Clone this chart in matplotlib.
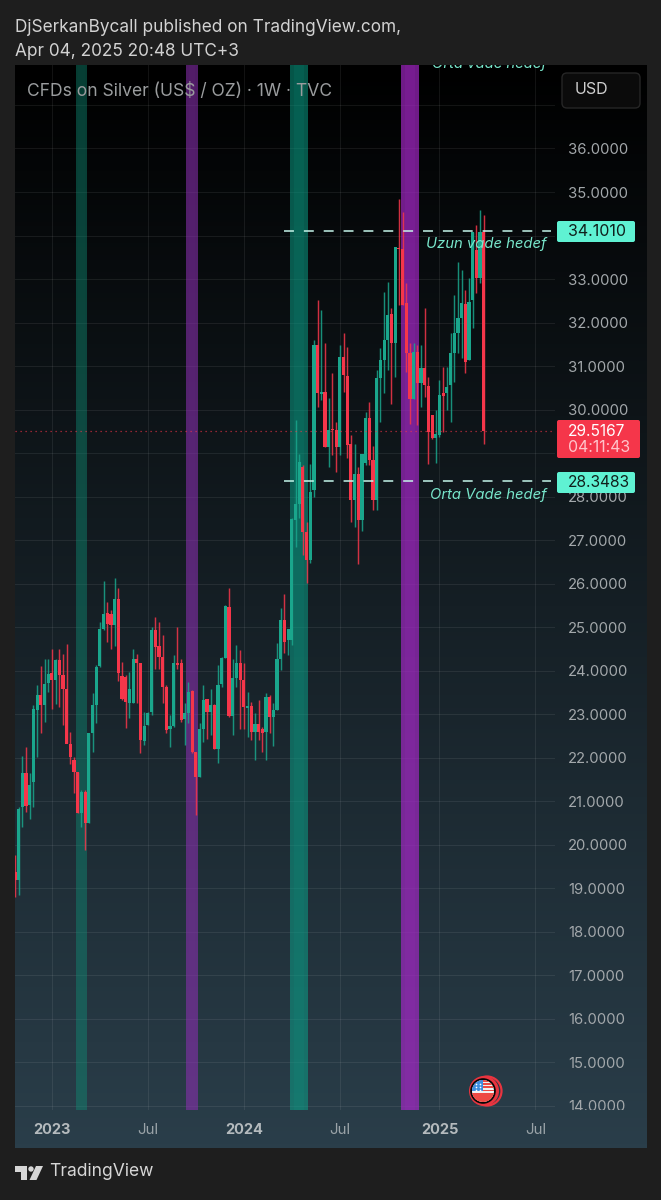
import numpy as np
import pandas as pd
import matplotlib
matplotlib.use("Agg")
import matplotlib.pyplot as plt
from matplotlib.patches import Rectangle, FancyBboxPatch, Circle, Polygon
from matplotlib.transforms import Bbox

plt.rcParams['font.family'] = ['Inter', 'DejaVu Sans']

week_dates = pd.date_range('2022-10-24', periods=128, freq='7D')
opens = [19.38,19.20,20.87,21.65,20.91,21.45,23.09,23.44,23.21,23.72,
 23.94,23.78,24.24,23.90,23.57,22.31,21.96,21.68,20.72,21.22,
 20.49,22.56,23.21,24.10,24.95,25.33,25.31,25.05,25.64,23.87,
 23.86,23.26,23.26,24.26,24.17,22.39,22.75,23.05,24.93,24.56,
 24.32,23.63,22.67,22.73,24.18,24.17,22.88,23.02,23.53,22.14,
 21.56,22.67,23.34,23.05,23.21,22.21,23.69,24.30,25.47,22.96,
 23.84,24.17,23.78,23.15,23.18,22.59,22.77,22.67,22.59,23.40,
 22.94,23.09,24.28,25.16,24.70,24.70,27.46,27.84,28.69,27.19,
 26.55,28.15,31.48,30.36,30.41,29.15,29.55,29.53,29.15,31.22,
 30.77,29.22,27.92,28.53,27.46,28.77,29.80,28.84,27.92,30.72,
 31.14,31.60,32.20,31.52,33.70,33.70,32.44,31.29,30.24,31.33,
 30.60,30.95,30.55,29.88,29.34,29.42,30.37,30.37,30.56,31.29,
 31.75,32.10,32.43,31.14,32.52,33.67,33.02,34.09]
highs = [19.76,20.87,22.04,22.24,21.64,23.21,23.67,24.10,24.28,24.28,
 24.51,24.28,24.49,24.39,24.61,22.59,22.02,21.68,21.25,21.27,
 22.57,23.49,24.13,25.12,26.07,25.58,25.39,26.12,25.89,24.20,
 23.90,23.97,24.49,24.38,24.17,23.05,23.05,25.01,25.24,25.12,
 24.82,23.67,22.98,24.36,25.01,24.28,23.25,23.74,23.55,22.14,
 22.79,23.67,23.34,23.59,23.23,24.13,24.32,25.51,25.91,24.28,
 24.59,24.47,24.17,23.51,23.28,23.02,23.32,22.71,23.48,23.44,
 23.25,24.63,25.43,25.76,24.97,27.50,29.76,28.99,28.73,27.42,
 28.76,31.60,32.52,32.29,31.54,30.26,30.85,29.72,31.48,31.75,
 31.43,29.42,29.22,28.69,28.99,29.95,30.18,29.16,30.91,31.42,
 32.71,32.94,32.33,33.74,34.85,34.55,32.90,31.52,31.52,31.48,
 31.48,32.33,30.76,29.88,29.99,30.68,30.97,30.99,31.75,32.63,
 33.40,33.21,32.75,33.02,34.09,34.24,34.59,34.47]
lows = [18.80,18.84,20.41,20.76,20.60,20.87,22.02,22.56,22.82,23.51,
 23.11,23.23,23.17,22.75,22.33,21.85,21.18,20.72,20.41,19.89,
 20.49,22.14,22.79,24.09,24.93,24.66,24.49,24.56,23.77,23.32,
 22.69,22.92,23.25,23.25,22.11,22.29,22.75,22.98,24.05,24.05,
 23.25,22.57,22.24,22.71,24.05,22.82,22.29,22.79,22.11,20.68,
 21.56,22.37,22.44,22.52,22.21,21.88,23.63,24.30,22.94,22.52,
 23.63,22.67,22.67,22.48,22.40,21.94,22.40,22.14,21.94,22.56,
 22.27,23.09,24.01,24.40,24.36,24.60,26.85,27.50,26.66,26.01,
 26.47,28.00,30.07,30.22,29.13,28.69,28.96,28.57,28.96,30.41,
 28.88,27.42,27.31,26.45,27.20,28.73,28.73,27.69,27.69,29.72,
 30.37,30.91,30.14,30.76,32.40,32.40,30.87,29.68,30.24,29.65,
 30.07,30.30,28.76,29.32,28.78,29.38,29.49,29.99,29.72,30.64,
 31.29,31.18,30.83,31.14,31.87,32.67,32.90,29.21]
closes = [19.20,20.83,21.65,20.89,21.37,23.13,23.44,23.21,23.69,23.92,
 23.78,24.24,23.90,23.59,22.31,22.02,21.68,20.73,21.22,20.49,
 22.57,23.21,24.09,24.95,25.31,25.07,25.05,25.64,23.94,23.34,
 23.28,23.59,24.26,24.17,22.40,22.73,23.03,24.93,24.55,24.32,
 23.63,22.63,22.73,24.18,24.13,22.86,23.02,23.51,22.14,21.56,
 22.67,23.32,23.05,23.21,22.21,23.67,24.30,25.48,22.96,23.84,
 24.17,23.78,23.17,23.18,22.59,22.77,22.59,22.57,23.40,22.94,
 23.09,24.28,25.16,24.66,24.97,27.48,27.84,28.80,27.19,26.54,
 28.11,31.48,30.37,30.41,29.15,29.53,29.52,29.15,31.22,30.79,
 29.19,27.92,28.53,27.46,28.99,29.80,28.84,27.92,30.72,31.14,
 31.60,32.17,31.52,33.74,33.68,32.40,31.29,30.24,31.33,30.60,
 30.95,30.56,29.49,29.34,29.45,30.33,30.31,30.53,31.29,31.75,
 32.10,32.44,31.10,32.48,34.09,33.02,34.09,29.5167]

price_ticks = list(range(14, 38))
hidden_price_labels = [29, 34, 37]  # covered by boxes in the original
date_ticks = ['2023-01-02', '2023-07-03', '2024-01-01', '2024-07-01', '2025-01-06', '2025-07-07']
date_labels = ['2023', 'Jul', '2024', 'Jul', '2025', 'Jul']
date_bold = [True, False, True, False, True, False]
# band spans in weeks since the first candle
green_bands = [(16.5, 19.5), (74.5, 79.4)]
purple_bands = [(46.3, 49.6), (104.6, 109.5)]
long_target = 34.1010
mid_target = 28.3483
last_price = 29.5167

W, H = 661, 1200
fig = plt.figure(figsize=(W/100, H/100), dpi=100, facecolor='#1e1e1e')

def px_axes(x0, y0, x1, y1, **kw):
    return fig.add_axes([x0/W, 1-y1/H, (x1-x0)/W, (y1-y0)/H], **kw)

# panel gradient
bg = fig.add_axes([0, 0, 1, 1], zorder=0)
bg.set_xlim(0, W); bg.set_ylim(H, 0); bg.axis('off')
grad = np.linspace(0, 1, 256)[:, None, None] * np.array([42, 62, 74])[None, None, :] / 255
bg.imshow(grad, extent=[15, 647, 1148, 65], aspect='auto', zorder=1)
bg.set_xlim(0, W); bg.set_ylim(H, 0)

# chart pane
ax = px_axes(15, 65, 555, 1110, zorder=2)
ax.patch.set_alpha(0)
ax.set_xlim(0, 146.3)
ax.set_ylim(35-(1110-192)/43.52, 35+(192-65)/43.52)
for s in ax.spines.values():
    s.set_visible(False)

start = week_dates[0]
xs = np.arange(len(opens))
tick_x = [(pd.Timestamp(d)-start).days/7 for d in date_ticks]
ax.set_xticks(tick_x)
ax.set_xticklabels(date_labels)
for lab, b in zip(ax.get_xticklabels(), date_bold):
    lab.set_fontweight('bold' if b else 'normal')
    lab.set_color('#b4babd' if b else '#9aa3a8')
    lab.set_fontsize(10.5 if b else 10.8)
ax.yaxis.tick_right()
ax.set_yticks(price_ticks)
ax.set_yticklabels(['' if p in hidden_price_labels else f'{p}.0000' for p in price_ticks])
ax.tick_params(axis='both', length=0)
ax.tick_params(axis='x', pad=9.5)
ax.tick_params(axis='y', pad=9.5, labelsize=10.7, labelcolor='#a3a8ab')
clip = Bbox([[500, 90], [661, 1200]])
for lab in ax.get_yticklabels():
    lab.set_clip_on(True)
    lab.set_clip_box(clip)
ax.grid(True, color='white', alpha=0.075, lw=0.8)
ax.set_axisbelow(True)

# bands
def band(a, b, col, edge_alpha, core_alpha):
    ax.axvspan(a, b, color=col, alpha=edge_alpha, lw=0, zorder=1)
    w = (b-a)*0.22
    ax.axvspan(a+w, b-w, color=col, alpha=core_alpha, lw=0, zorder=1)

band(*green_bands[0], '#0f9078', 0.42, 0.03)
band(*purple_bands[0], '#8a30b0', 0.58, 0.05)
band(*green_bands[1], '#0aa58c', 0.52, 0.12)
band(*purple_bands[1], '#a528c8', 0.68, 0.15)

# candles
up = '#1aa68c'
down = '#f5364a'
o = np.array(opens); c = np.array(closes); hi = np.array(highs); lo = np.array(lows)
cols = [up if b >= a else down for a, b in zip(o, c)]
ax.vlines(xs, lo, hi, colors=cols, lw=1.05, alpha=0.85, zorder=3)
ax.bar(xs, np.maximum(np.abs(c-o), 0.04), bottom=np.minimum(o, c), width=0.86, color=cols, lw=0, zorder=4)

# level lines
ax.hlines(last_price, 0, 146.3, colors='#f5364a', lw=0.9, linestyles=(0, (1, 3)), alpha=0.75, zorder=5)
for lvl in (long_target, mid_target):
    ax.hlines(lvl, 72.9, 145.3, colors='#c4f5ea', lw=1.1, linestyles=(0, (6.5, 6.5)), zorder=6)
note = '#78e6cb'
ax.text(144, long_target-0.29, 'Uzun vade hedef', style='italic', color=note, fontsize=10.7, ha='right', va='center', zorder=7)
ax.text(144, mid_target-0.31, 'Orta Vade hedef', style='italic', color=note, fontsize=10.7, ha='right', va='center', zorder=7)
ax.text(144, 37.95, 'Orta vade hedef', style='italic', color=note, fontsize=10.7, ha='right', va='center', zorder=7, clip_on=True)
ax.text(3.2, 37.32, 'CFDs on Silver (US$ / OZ) · 1W · TVC', color='#9a9c9e', fontsize=12.6, ha='left', va='center', zorder=8)

# overlay in pixels
ov = fig.add_axes([0, 0, 1, 1], zorder=5)
ov.patch.set_alpha(0)
ov.set_xlim(0, W); ov.set_ylim(H, 0); ov.axis('off')

ov.text(15, 27, 'DjSerkanBycall published on TradingView.com,', color='#d2d2d2', fontsize=12.4, va='center')
ov.text(15, 51, 'Apr 04, 2025 20:48 UTC+3', color='#d2d2d2', fontsize=12.4, va='center')
ov.text(49, 1172, 'TradingView', color='#d6d6d6', fontsize=12.6, va='center')

ov.add_patch(FancyBboxPatch((562, 73), 78, 35, boxstyle='round,pad=0,rounding_size=5', fc='#0b0b0b', ec='#262626', lw=1))
ov.text(575, 90, 'USD', color='#d0d0d0', fontsize=11.5, va='center')

mint = '#5ff2d3'
ov.add_patch(FancyBboxPatch((557, 221), 78, 21, boxstyle='round,pad=0,rounding_size=2', fc=mint, ec='none'))
ov.text(568, 231.5, f'{long_target:.4f}', color='#10201c', fontsize=11.5, va='center')
ov.add_patch(FancyBboxPatch((557, 472), 78, 21, boxstyle='round,pad=0,rounding_size=2', fc=mint, ec='none'))
ov.text(568, 482.5, f'{mid_target:.4f}', color='#10201c', fontsize=11.2, va='center')
ov.add_patch(FancyBboxPatch((557, 420), 83, 38, boxstyle='round,pad=0,rounding_size=2', fc='#f5364a', ec='none'))
ov.text(568, 431, f'{last_price:.4f}', color='#ffffff', fontsize=11.2, va='center')
ov.text(568, 448, '04:11:43', color='#ffc4ca', fontsize=11.4, va='center')

# flag marker
ov.add_patch(Circle((487, 1091), 14.5, fc='none', ec='#e8343f', lw=1.6))
ov.add_patch(Circle((484, 1091), 15, fc='#e8343f', ec='none'))
ov.add_patch(Circle((483, 1091), 12.8, fc='#060606', ec='none'))
disc = Circle((483, 1091), 11, fc='#f2f2f2', ec='none')
ov.add_patch(disc)
for k, yy in enumerate(np.arange(1080, 1102, 3.2)):
    r = Rectangle((472, yy), 22, 1.6, fc='#ee4b45', ec='none', zorder=3)
    ov.add_patch(r); r.set_clip_path(disc)
r = Rectangle((472, 1080), 11, 11, fc='#3d8ee0', ec='none', zorder=4)
ov.add_patch(r); r.set_clip_path(disc)
r = Rectangle((472, 1093), 22, 9, fc='#ee4b45', ec='none', zorder=3)
ov.add_patch(r); r.set_clip_path(disc)
ov.scatter([476, 480, 476, 480, 476, 480], [1084, 1084, 1087, 1087, 1090, 1090], s=1.5, c='white', lw=0, zorder=5)

# TradingView logo
logo = '#d6d6d6'
ov.add_patch(Polygon([(15, 1166), (27, 1166), (27, 1180), (21, 1180), (21, 1172), (15, 1172)], fc=logo, ec='none'))
ov.add_patch(Circle((31, 1169), 2.7, fc=logo, ec='none'))
ov.add_patch(Polygon([(36, 1166), (43, 1166), (36.5, 1180), (29.5, 1180)], fc=logo, ec='none'))

fig.savefig('out.png', dpi=100, facecolor=fig.get_facecolor())
